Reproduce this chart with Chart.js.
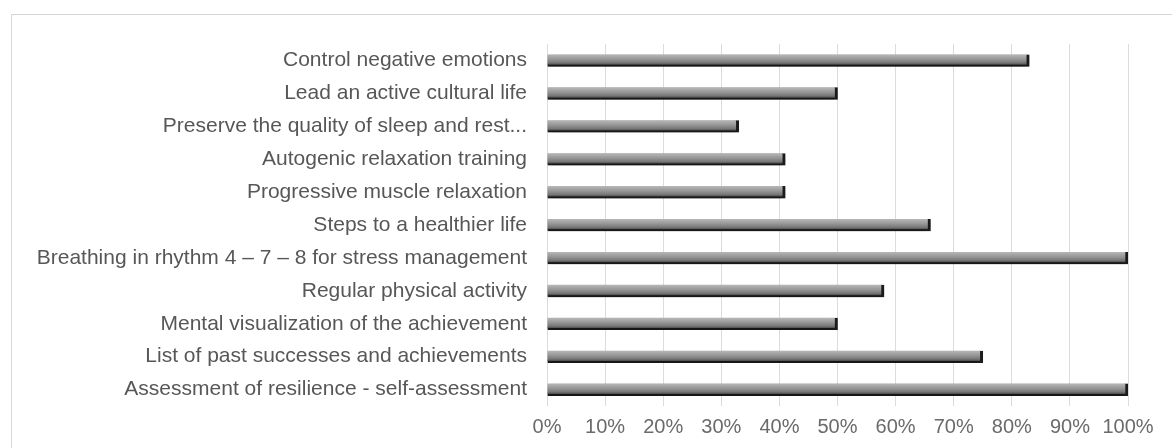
<!DOCTYPE html>
<html>
<head>
<meta charset="utf-8">
<script src="https://cdn.jsdelivr.net/npm/chart.js@4.4.0/dist/chart.umd.min.js"></script>
<style>
  html, body { margin: 0; padding: 0; background: #fff; overflow: hidden; }
  #frame { position: absolute; left: 11px; top: 14px; width: 1200px; height: 480px; border: 1px solid #d6d6d6; }
  #wrap { position: absolute; left: 0; top: 0; width: 1172px; height: 448px; }
</style>
</head>
<body>
<div id="frame"></div>
<div id="wrap"><canvas id="chart"></canvas></div>
<script>
const categories = [
  "Control negative emotions",
  "Lead an active cultural life",
  "Preserve the quality of sleep and rest...",
  "Autogenic relaxation training",
  "Progressive muscle relaxation",
  "Steps to a healthier life",
  "Breathing in rhythm 4 \u2013 7 \u2013 8 for stress management",
  "Regular physical activity",
  "Mental visualization of the achievement",
  "List of past successes and achievements",
  "Assessment of resilience - self-assessment"
];
const shares = [83, 50, 33, 41, 41, 66, 100, 58, 50, 75, 100];
const xTicks = [0, 10, 20, 30, 40, 50, 60, 70, 80, 90, 100];

const font = "'Liberation Sans', Arial, sans-serif";

// soft glow around the bars, like the original export
const barShadow = {
  id: "barShadow",
  beforeDatasetsDraw(chart) {
    const c = chart.ctx;
    c.save();
    c.shadowColor = "rgba(0,0,0,0.5)";
    c.shadowBlur = 8;
    c.shadowOffsetY = 1;
  },
  afterDatasetsDraw(chart) {
    chart.ctx.restore();
  }
};

function barFill(context) {
  const chart = context.chart;
  const yScale = chart.scales.y;
  if (!yScale || context.dataIndex == null) return "#999999";
  const yc = yScale.getPixelForValue(context.dataIndex);
  if (!Number.isFinite(yc)) return "#999999";
  const g = chart.ctx.createLinearGradient(0, yc - 6, 0, yc + 6);
  g.addColorStop(0, "#b8b8b8");
  g.addColorStop(0.4, "#969696");
  g.addColorStop(0.7, "#777777");
  g.addColorStop(1, "#262626");
  return g;
}

const ctx = document.getElementById("chart").getContext("2d");
new Chart(ctx, {
  type: "bar",
  data: {
    labels: categories,
    datasets: [{
      data: shares,
      backgroundColor: barFill,
      borderColor: "#1e1e1e",
      borderWidth: { top: 0, right: 3, bottom: 2, left: 0 },
      borderSkipped: "start",
      barThickness: 12
    }]
  },
  plugins: [barShadow],
  options: {
    indexAxis: "y",
    responsive: true,
    maintainAspectRatio: false,
    animation: false,
    layout: { padding: { top: 44, right: 44, bottom: 0, left: 0 } },
    plugins: {
      legend: { display: false },
      tooltip: { enabled: false }
    },
    scales: {
      x: {
        min: 0,
        max: 100,
        afterBuildTicks(scale) {
          scale.ticks = xTicks.map((v) => ({ value: v }));
        },
        ticks: {
          padding: 9,
          maxRotation: 0,
          minRotation: 0,
          autoSkip: false,
          color: "#6a6a6a",
          font: { family: font, size: 20 },
          callback: (v) => `${v}%`
        },
        grid: { color: "#dcdcdc", lineWidth: 1, drawTicks: false },
        border: { display: false }
      },
      y: {
        afterFit(scale) { scale.width = 547; },
        ticks: {
          padding: 20,
          color: "#575757",
          font: { family: font, size: 21 }
        },
        grid: { display: false, drawTicks: false },
        border: { display: false }
      }
    }
  }
});
</script>
</body>
</html>
